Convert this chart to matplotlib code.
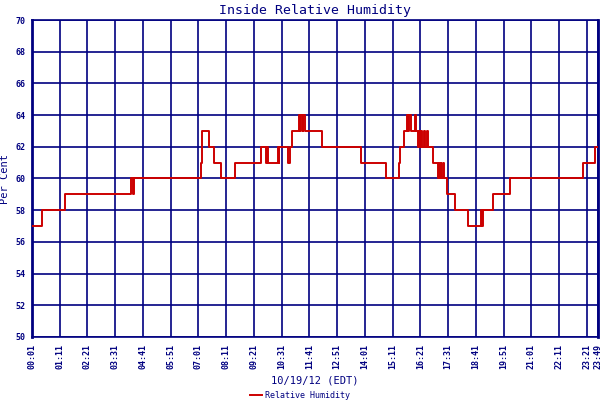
import matplotlib
matplotlib.use("Agg")
import matplotlib.pyplot as plt

navy = "#000080"
red = "#cc0000"

# change points: minutes since 00:01 and relative humidity (%)
minutes = [0, 24, 84, 249, 255, 257, 427, 428, 430, 447, 460, 478, 512,
           577, 590, 593, 595, 621, 623, 624, 647, 650, 656, 673, 676, 678,
           683, 684, 688, 731, 829, 893, 925, 928, 939, 947, 949, 950, 955,
           966, 970, 975, 977, 980, 982, 985, 990, 992, 996, 998, 1011, 1025,
           1027, 1029, 1031, 1033, 1038, 1040, 1046, 1068, 1101, 1134, 1136,
           1138, 1162, 1207, 1389, 1420, 1428]
humidity = [57, 58, 59, 60, 59, 60, 61, 62, 63, 62, 61, 60, 61,
            62, 61, 62, 61, 62, 61, 62, 61, 62, 63, 64, 63, 64,
            63, 64, 63, 62, 61, 60, 61, 62, 63, 64, 63, 64, 63,
            64, 63, 62, 63, 62, 63, 62, 63, 62, 63, 62, 61, 60,
            61, 60, 61, 60, 61, 60, 59, 58, 57, 58, 57,
            58, 59, 60, 61, 62, 62]

tick_pos = [0, 70, 140, 210, 280, 350, 420, 490, 560, 630, 700, 770, 840,
            910, 980, 1050, 1120, 1190, 1260, 1330, 1400, 1428]
tick_labels = ["00:01", "01:11", "02:21", "03:31", "04:41", "05:51", "07:01",
               "08:11", "09:21", "10:31", "11:41", "12:51", "14:01", "15:11",
               "16:21", "17:31", "18:41", "19:51", "21:01", "22:11", "23:21",
               "23:49"]
y_ticks = [50, 52, 54, 56, 58, 60, 62, 64, 66, 68, 70]

mono = "DejaVu Sans Mono"

fig = plt.figure(figsize=(6, 4), dpi=100)
ax = fig.add_axes([32 / 600, 63 / 400, 566 / 600, 317 / 400])

ax.step(minutes, humidity, where="post", color=red, lw=1.4,
        label="Relative Humidity", zorder=3)

ax.set_xlim(0, 1428)
ax.set_ylim(50, 70)
ax.set_xticks(tick_pos)
ax.set_xticklabels(tick_labels, rotation=90, fontsize=6, family=mono,
                   fontweight="bold", color=navy)
ax.set_yticks(y_ticks)
ax.set_yticklabels([str(v) for v in y_ticks], fontsize=6, family=mono,
                   fontweight="bold", color=navy)
ax.tick_params(length=0, pad=5)
ax.grid(True, color=navy, lw=1.2)
for side, sp in ax.spines.items():
    sp.set_color(navy)
    sp.set_linewidth(1.2)
ax.spines["left"].set_linewidth(2)
ax.spines["right"].set_linewidth(2)

ax.set_title("Inside Relative Humidity", family=mono, fontsize=9.5,
             color=navy, pad=4)
ax.set_xlabel("10/19/12 (EDT)", family=mono, fontsize=7.5, color=navy,
              labelpad=5)
ax.set_ylabel("Per Cent", family=mono, fontsize=7.5, color=navy, labelpad=4)

fig.legend(loc="lower center", bbox_to_anchor=(0.5, -0.012), frameon=False,
           prop={"family": mono, "size": 6}, labelcolor=navy,
           handlelength=1.4, handletextpad=0.3, borderpad=0.1)

fig.savefig("out.png", dpi=100)
